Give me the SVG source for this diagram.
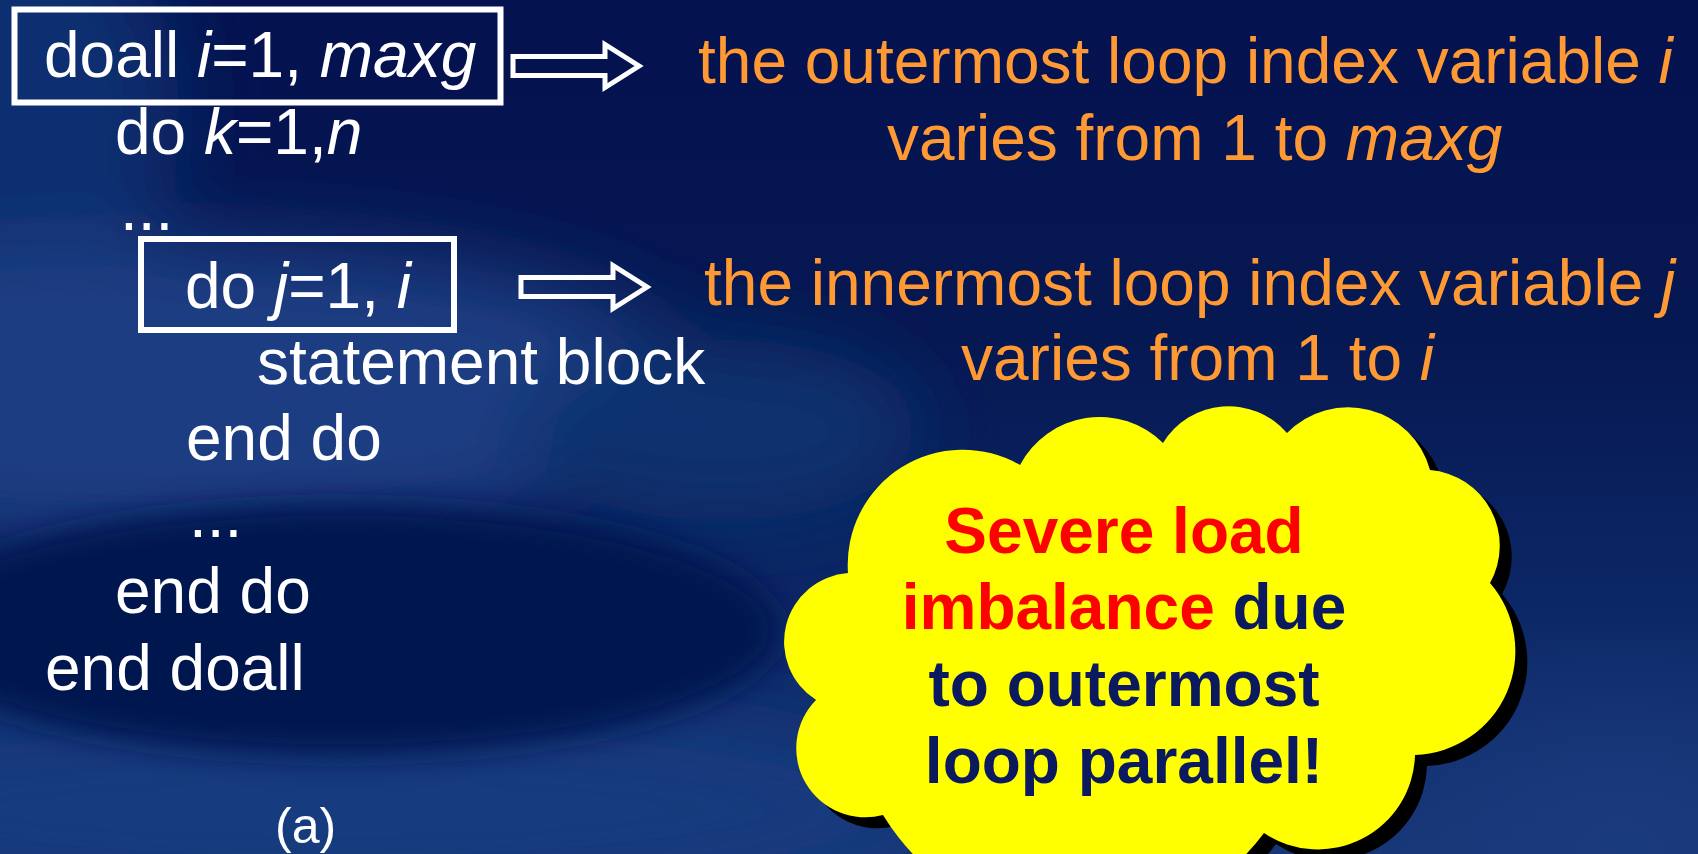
<svg xmlns="http://www.w3.org/2000/svg" width="1698" height="854" viewBox="0 0 1698 854">
  <defs>
    <linearGradient id="bgBase" x1="0" y1="0" x2="0" y2="1">
      <stop offset="0" stop-color="#041250"/>
      <stop offset="0.4" stop-color="#061852"/>
      <stop offset="0.7" stop-color="#0C2766"/>
      <stop offset="1" stop-color="#163676"/>
    </linearGradient>
    <radialGradient id="glowRight" cx="0.5" cy="0.5" r="0.5">
      <stop offset="0" stop-color="#1A3A7E" stop-opacity="1"/>
      <stop offset="1" stop-color="#1A3A7E" stop-opacity="0"/>
    </radialGradient>
    <filter id="soft" x="-40%" y="-40%" width="180%" height="180%">
      <feGaussianBlur stdDeviation="40"/>
    </filter>
    <filter id="softer" x="-30%" y="-30%" width="160%" height="160%">
      <feGaussianBlur stdDeviation="16"/>
    </filter>
    <style>
      .code { font-family: "Liberation Sans", Arial, sans-serif; font-size: 64px; fill: #FFFFFF; }
      .note { font-family: "Liberation Sans", Arial, sans-serif; font-size: 64px; fill: #FF9933; }
      .cloudtxt { font-family: "Liberation Sans", Arial, sans-serif; font-size: 64px; font-weight: bold; text-anchor: middle; fill: #0B1A5E; }
      .hot { fill: #FF0000; }
      .it { font-style: italic; }
      .frame { fill: none; stroke: #FFFFFF; stroke-width: 6; }
      .arrow { fill: none; stroke: #FFFFFF; stroke-width: 5; stroke-linejoin: miter; }
    </style>
    <path id="blockArrow" d="M0 -9.5 H92 V-21.5 L126 0 L92 21.5 V9.5 H0 Z"/>
    <path id="cloudShape" d="M848 573 A115 115 0 0 1 1020 465 A90 90 0 0 1 1163 443 A77 77 0 0 1 1287 433 A85 85 0 0 1 1430 470 A76 76 0 0 1 1490 583 A104 104 0 0 1 1415 755 A97 97 0 0 1 1264 833 A230 230 0 0 1 883 815 A69 69 0 0 1 816 700 A69 69 0 0 1 848 573 Z"/>
  </defs>

  <!-- background -->
  <g id="background">
    <rect x="0" y="0" width="1698" height="854" fill="url(#bgBase)"/>
    <g filter="url(#soft)">
      <ellipse cx="30" cy="110" rx="150" ry="200" fill="#0F2E70"/>
      <ellipse cx="150" cy="390" rx="560" ry="150" fill="#1C3E82"/>
      <ellipse cx="720" cy="430" rx="200" ry="90" fill="#10306E"/>
      <ellipse cx="330" cy="810" rx="600" ry="110" fill="#193B7E"/>
    </g>
    <ellipse cx="1620" cy="840" rx="330" ry="220" fill="url(#glowRight)"/>
    <g filter="url(#softer)">
      <ellipse cx="340" cy="630" rx="440" ry="125" fill="#031550"/>
    </g>
  </g>

  <!-- loop nest listing -->
  <g id="code">
    <text class="code" x="44" y="77">doall <tspan class="it">i</tspan>=1, <tspan class="it">maxg</tspan></text>
    <text class="code" x="115" y="154">do <tspan class="it">k</tspan>=1,<tspan class="it">n</tspan></text>
    <text class="code" x="120" y="230">...</text>
    <text class="code" x="185" y="308">do <tspan class="it">j</tspan>=1, <tspan class="it">i</tspan></text>
    <text class="code" x="257" y="384">statement block</text>
    <text class="code" x="186" y="460">end do</text>
    <text class="code" x="189" y="537">...</text>
    <text class="code" x="115" y="613">end do</text>
    <text class="code" x="45" y="690">end doall</text>
    <text class="code" x="275" y="843" style="font-size:50px">(a)</text>
  </g>

  <!-- highlighted loop headers -->
  <g id="outer-loop-box">
    <rect class="frame" x="14.5" y="9.5" width="486" height="93"/>
  </g>
  <g id="inner-loop-box">
    <rect class="frame" x="141" y="239" width="313" height="91"/>
  </g>

  <!-- block arrows -->
  <g id="connectors">
    <use href="#blockArrow" class="arrow" transform="translate(513,66)"/>
    <use href="#blockArrow" class="arrow" transform="translate(521,287)"/>
  </g>

  <!-- explanations -->
  <g id="outer-note">
    <text class="note" x="698" y="83">the outermost loop index variable <tspan class="it">i</tspan></text>
    <text class="note" x="887" y="160">varies from 1 to <tspan class="it">maxg</tspan></text>
  </g>
  <g id="inner-note">
    <text class="note" x="704" y="305">the innermost loop index variable <tspan class="it">j</tspan></text>
    <text class="note" x="961" y="380">varies from 1 to <tspan class="it">i</tspan></text>
  </g>

  <!-- callout cloud -->
  <g id="cloud">
    <use href="#cloudShape" fill="#000000" transform="translate(12,11)"/>
    <use href="#cloudShape" fill="#FFFF00"/>
    <text class="cloudtxt" x="1124" y="553"><tspan class="hot">Severe load</tspan></text>
    <text class="cloudtxt" x="1124" y="629"><tspan class="hot">imbalance</tspan> due</text>
    <text class="cloudtxt" x="1124" y="706">to outermost</text>
    <text class="cloudtxt" x="1124" y="783">loop parallel!</text>
  </g>
</svg>
